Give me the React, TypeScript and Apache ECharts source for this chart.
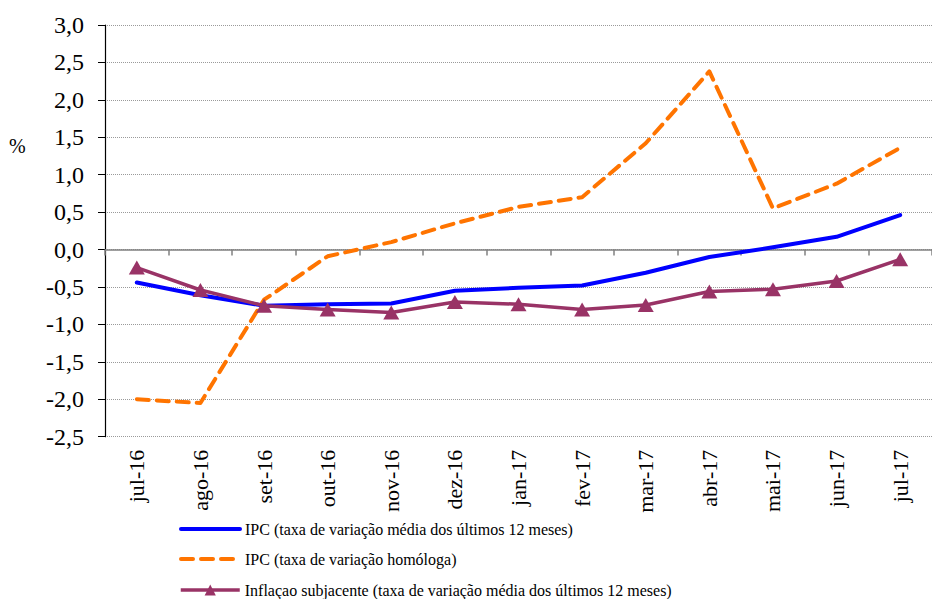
import React, { useEffect, useRef } from "react";
import * as echarts from "echarts";

const categories = ["jul-16","ago-16","set-16","out-16","nov-16","dez-16","jan-17","fev-17","mar-17","abr-17","mai-17","jun-17","jul-17"];
const ipcMedia = [-0.44,-0.61,-0.75,-0.73,-0.72,-0.55,-0.51,-0.48,-0.31,-0.10,0.03,0.17,0.46];
const ipcHomologa = [-2.0,-2.05,-0.67,-0.09,0.10,0.35,0.57,0.70,1.42,2.38,0.55,0.88,1.36];
const subjacente = [-0.24,-0.54,-0.75,-0.80,-0.84,-0.70,-0.73,-0.80,-0.74,-0.56,-0.53,-0.42,-0.13];
const seriesNames = [
  "IPC (taxa de variação média dos últimos 12 meses)",
  "IPC (taxa de variação homóloga)",
  "Inflaçao subjacente (taxa de variação média dos últimos 12 meses)",
];
const yMin = -2.5;
const yMax = 3.0;
const yStep = 0.5;

const FONT = "Liberation Serif, Times New Roman, serif";
const colors = ["#0000FF", "#FF7400", "#993366"];
const widths = [4, 4, 3.5];

export default function App() {
  const ref = useRef<HTMLDivElement>(null);
  useEffect(() => {
    if (!ref.current) return;
    const chart = echarts.init(ref.current, null, { renderer: "svg" });
    const legendTops = [519, 549, 580];
    const legends = seriesNames.map((name, i) => ({
      orient: "vertical",
      left: 179,
      top: legendTops[i],
      itemWidth: 59,
      itemHeight: 14,
      padding: 0,
      lineStyle: { width: widths[i] },
      textStyle: { fontFamily: FONT, fontSize: 16, color: "#000", lineHeight: 20 },
      data: [i < 2 ? { name, itemStyle: { opacity: 0 } } : { name }],
    }));
    chart.setOption({
      animation: false,
      backgroundColor: "#ffffff",
      textStyle: { fontFamily: FONT },
      grid: { left: 105, top: 25, width: 836, bottom: 162.3, containLabel: false },
      graphic: [
        { type: "text", left: 9, top: 136, style: { text: "%", fontFamily: FONT, fontSize: 20, fill: "#000" } },
      ],
      legend: legends,
      xAxis: [
        {
          type: "category",
          data: categories,
          position: "bottom",
          boundaryGap: true,
          axisLine: { show: true, onZero: true, lineStyle: { color: "#808080", width: 1.5 } },
          axisTick: { show: true, length: 6, alignWithLabel: false, lineStyle: { color: "#808080", width: 1.5 } },
          axisLabel: { show: false },
          splitLine: { show: false },
        },
        {
          type: "category",
          data: categories,
          position: "bottom",
          boundaryGap: true,
          axisLine: { show: false, onZero: false },
          axisTick: { show: false },
          axisLabel: { show: true, rotate: 90, margin: 13, fontFamily: FONT, fontSize: 22, color: "#000", interval: 0 },
          splitLine: { show: false },
        },
      ],
      yAxis: {
        type: "value",
        min: yMin,
        max: yMax,
        interval: yStep,
        axisLine: { show: true, lineStyle: { color: "#000", width: 1.2 } },
        axisTick: { show: true, length: 7, inside: false, lineStyle: { color: "#000", width: 1 } },
        axisLabel: {
          margin: 21,
          fontFamily: FONT,
          fontSize: 24,
          color: "#000",
          formatter: (v: number) => v.toFixed(1).replace(".", ","),
        },
        splitLine: { show: true, lineStyle: { type: "dotted", color: "#9a9a9a", width: 1 } },
      },
      series: [
        {
          name: seriesNames[0],
          type: "line",
          data: ipcMedia,
          symbol: "none",
          lineStyle: { color: colors[0], width: widths[0], cap: "round", join: "round" },
          itemStyle: { color: colors[0] },
          z: 3,
        },
        {
          name: seriesNames[1],
          type: "line",
          data: ipcHomologa,
          symbol: "none",
          lineStyle: { color: colors[1], width: widths[1], type: [12, 8], cap: "round", join: "round" },
          itemStyle: { color: colors[1] },
          z: 2,
        },
        {
          name: seriesNames[2],
          type: "line",
          data: subjacente,
          symbol: "triangle",
          symbolSize: [16, 14],
          lineStyle: { color: colors[2], width: widths[2], join: "round" },
          itemStyle: { color: colors[2] },
          z: 4,
        },
      ],
    });
    return () => chart.dispose();
  }, []);
  return <div ref={ref} style={{ width: 932, height: 599, position: "absolute", left: 0, top: 0 }} />;
}
